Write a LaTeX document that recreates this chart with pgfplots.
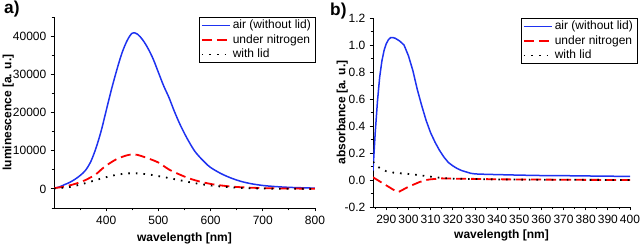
\documentclass[12pt,border=0pt]{standalone}
\usepackage{fontspec}
\setmainfont{Liberation Sans}
\usepackage{pgfplots}
\pgfplotsset{compat=1.18}
\definecolor{myblue}{RGB}{30,50,240}
\definecolor{myred}{RGB}{250,0,0}
\pgfplotsset{
  common/.style={
    scale only axis,
    axis x line=bottom, axis y line=left,
    axis line style={-, line width=0.8pt, black},
    tick align=outside, major tick length=3.5pt, minor tick length=2.5pt,
    tick style={line width=0.8pt, black},
    scaled x ticks=false, scaled y ticks=false,
    legend cell align=left,
    legend style={inner xsep=2pt, inner ysep=1pt, anchor=north east},
  },
}
\begin{document}
\begin{tikzpicture}[x=1pt,y=1pt]
\path[use as bounding box] (0,0) rectangle (640,245);
\node[anchor=west] at (0,236) {\Large\bfseries a)};
\node[anchor=west] at (326,234) {\Large\bfseries b)};
\begin{axis}[common, at={(54pt,37pt)}, anchor=south west, width=261pt, height=191pt,
  legend image code/.code={\draw[#1] plot coordinates {(0pt,0pt) (14pt,0pt) (28pt,0pt)};},
  xmin=300, xmax=800, ymin=-5000, ymax=45000,
  xtick={400,500,600,700,800}, xticklabels={400,500,600,700,800},
  minor xtick={350,450,550,650,750},
  ytick={0,10000,20000,30000,40000}, yticklabels={0,10000,20000,30000,40000},
  minor ytick={-5000,5000,15000,25000,35000,45000},
  xlabel={\bfseries wavelength [nm]},
  ylabel={\bfseries luminescence [a. u.]},
  xlabel style={at={(axis description cs:0.5,-0.16)}, anchor=center},
  ylabel style={at={(axis description cs:-0.175,0.5)}, anchor=center, rotate=0},
  legend style={at={(axis description cs:1,1)}},
]
\addplot[draw=myblue, line width=1.5pt, smooth] coordinates {
(300,150) (310,500) (320,1100) (330,1700) (340,2500) (350,3500) (360,4800) (370,7000)
(380,10500) (390,15000) (400,20500) (410,26000) (420,31000) (430,35500) (440,38800)
(450,40800) (460,40500) (470,39000) (480,36800) (490,34000) (500,30500) (510,27000)
(520,24000) (530,20500) (540,17300) (550,14500) (560,12000) (570,9800) (580,8200)
(590,6800) (600,5600) (620,4000) (640,2800) (660,1900) (680,1300) (700,900) (720,650)
(750,400) (800,200)};
\addlegendentry{air (without lid)}
\addplot[draw=myred, line width=1.8pt, dash pattern=on 10pt off 5pt, smooth] coordinates {
(300,200) (320,600) (340,1300) (360,2300) (380,3800) (390,5000) (400,6100) (420,7800)
(440,8800) (450,9000) (460,8900) (480,8000) (500,6900) (520,5100) (540,3800) (560,2700)
(580,1900) (600,1300) (620,900) (650,500) (700,200) (750,100) (800,50)};
\addlegendentry{under nitrogen}
\addplot[draw=black, line width=1.8pt, dash pattern=on 1.6pt off 6pt, smooth] coordinates {
(300,100) (330,500) (360,1500) (390,2700) (420,3700) (450,4100) (480,3800) (510,3100)
(540,2300) (570,1500) (600,900) (630,500) (660,250) (700,100) (750,30) (800,0)};
\addlegendentry{with lid}
\end{axis}
\begin{axis}[common, at={(373pt,38pt)}, anchor=south west, width=257pt, height=189pt,
  legend image code/.code={\draw[#1] plot coordinates {(0pt,0pt) (14pt,0pt) (28pt,0pt)};},
  xmin=284, xmax=400, ymin=-0.2, ymax=1.2,
  xtick={290,300,310,320,330,340,350,360,370,380,390,400},
  xticklabels={290,300,310,320,330,340,350,360,370,380,390,400},
  minor xtick={285,295,305,315,325,335,345,355,365,375,385,395},
  ytick={-0.2,0,0.2,0.4,0.6,0.8,1.0,1.2},
  yticklabels={-0.2,0.0,0.2,0.4,0.6,0.8,1.0,1.2},
  minor ytick={-0.1,0.1,0.3,0.5,0.7,0.9,1.1},
  xlabel={\bfseries wavelength [nm]},
  ylabel={\bfseries absorbance [a. u.]},
  xlabel style={at={(axis description cs:0.5,-0.15)}, anchor=center},
  ylabel style={at={(axis description cs:-0.12,0.5)}, anchor=center, rotate=0},
  legend style={at={(axis description cs:1,1)}, xshift=7pt},
]
\addplot[draw=myblue, line width=1.5pt] coordinates {
(284,0.07) (285,0.35) (286,0.58) (287,0.76) (288,0.88) (289,0.96) (290,1.01) (291,1.04)
(292,1.055) (293,1.055) (294,1.05) (295,1.04) (296,1.03) (297,1.015) (298,1.0) (299,0.96)
(300,0.92) (302,0.81) (304,0.67) (306,0.55) (308,0.44) (310,0.35) (312,0.28) (314,0.22)
(316,0.17) (318,0.13) (320,0.105) (322,0.085) (324,0.07) (326,0.06) (328,0.05) (330,0.045)
(335,0.042) (340,0.04) (345,0.038) (350,0.036) (360,0.033) (370,0.032) (380,0.03)
(390,0.028) (400,0.027)};
\addlegendentry{air (without lid)}
\addplot[draw=myred, line width=1.8pt, dash pattern=on 10pt off 5pt] coordinates {
(284,0.02) (285,0.01) (290,-0.04) (295,-0.09) (296,-0.085) (300,-0.05) (305,-0.015)
(308,0.0) (310,0.005) (315,0.012) (320,0.01) (330,0.008) (340,0.005) (360,0.003)
(380,0.001) (400,0.0)};
\addlegendentry{under nitrogen}
\addplot[draw=black, line width=1.8pt, dash pattern=on 1.6pt off 6pt] coordinates {
(284,0.135) (286,0.1) (288,0.08) (290,0.065) (293,0.055) (296,0.05) (300,0.045)
(305,0.035) (310,0.025) (315,0.015) (320,0.01) (330,0.007) (340,0.004) (360,0.002)
(400,0.0)};
\addlegendentry{with lid}
\end{axis}
\end{tikzpicture}
\end{document}
